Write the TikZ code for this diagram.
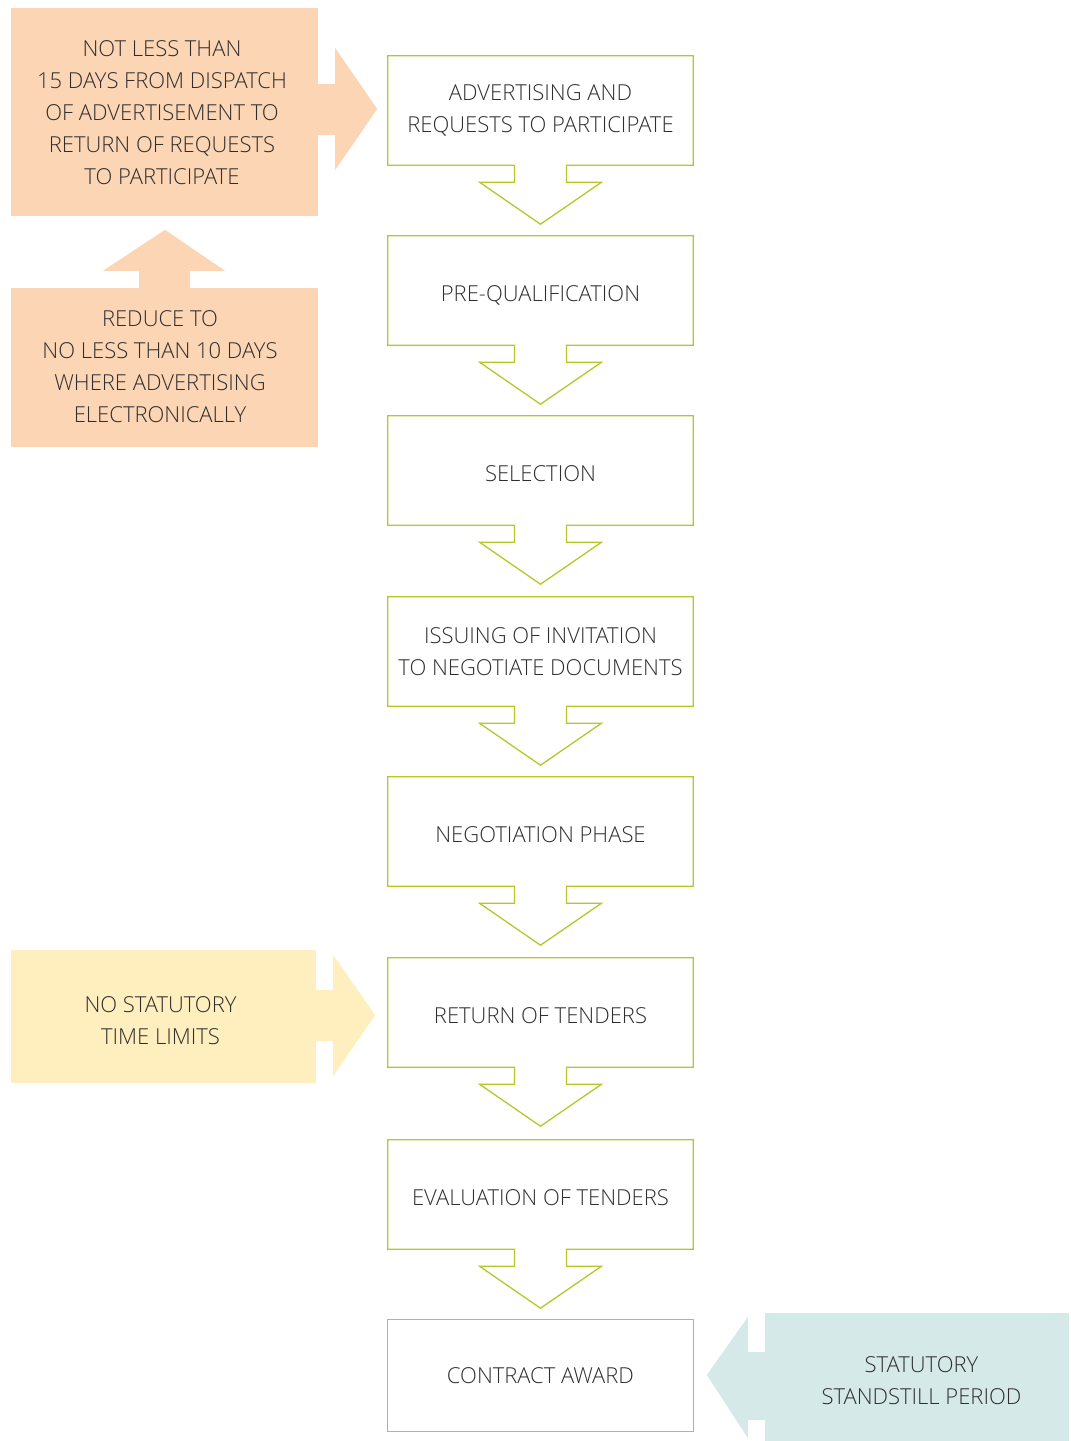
\documentclass[tikz,border=0pt]{standalone}
\usepackage{fontspec}
\setmainfont{Open Sans Light}
\usetikzlibrary{calc}
\definecolor{stepline}{HTML}{B7C62B}
\definecolor{notepeach}{HTML}{FCD5B4}
\definecolor{noteyellow}{HTML}{FFEFBF}
\definecolor{noteteal}{HTML}{D5EAE8}
\definecolor{inkgray}{HTML}{2E2E2E}
\begin{document}
\begin{tikzpicture}[x=1pt,y=-1pt,
  every node/.style={text=inkgray, font=\fontsize{22}{32}\selectfont, align=center, inner sep=0pt},
  stepbox/.style={minimum width=305pt, minimum height=109pt},
  oneline/.style={text height=22pt, text depth=0pt},
  notebox/.style={minimum width=307pt},
  outline/.style={draw=stepline, line width=1.3pt, line join=miter}]
\useasboundingbox (0,0) rectangle (1071,1441);

% process steps
\node[stepbox] (s1) at (540.5,110.5) {ADVERTISING AND\\REQUESTS TO PARTICIPATE};
\node[stepbox, oneline] (s2) at (540.5,290.5) {PRE-QUALIFICATION};
\node[stepbox, oneline] (s3) at (540.5,470.5) {SELECTION};
\node[stepbox] (s4) at (540.5,651.5) {ISSUING OF INVITATION\\TO NEGOTIATE DOCUMENTS};
\node[stepbox, oneline] (s5) at (540.5,831.5) {NEGOTIATION PHASE};
\node[stepbox, oneline] (s6) at (540.5,1012.5) {RETURN OF TENDERS};
\node[stepbox, oneline] (s7) at (540.5,1194.5) {EVALUATION OF TENDERS};
\node[stepbox, minimum height=111pt, text depth=0pt] (s8) at (540.5,1375.5) {CONTRACT AWARD};

% each step box carries a down-arrow on its lower edge
\foreach \s in {s1,s2,s3,s4,s5,s6,s7}{
  \draw[outline] (\s.south west) -- (\s.north west) -- (\s.north east) -- (\s.south east)
    -- ($(\s.south)+(26,0)$) -- ($(\s.south)+(26,17)$) -- ($(\s.south)+(61,17)$)
    -- ($(\s.south)+(0,59)$)
    -- ($(\s.south)+(-61,17)$) -- ($(\s.south)+(-26,17)$) -- ($(\s.south)+(-26,0)$) -- cycle;
}
\draw[outline] (s8.south west) rectangle (s8.north east);

% side note panels
\node[notebox, fill=notepeach, minimum height=208pt] (n1) at (164.5,112) {};
\node[notebox, fill=notepeach, minimum height=159pt] (n2) at (164.5,367.5) {};
\node[notebox, minimum width=305pt, fill=noteyellow, minimum height=133pt] (n3) at (163.5,1016.5) {};
\node[notebox, minimum width=304pt, fill=noteteal, minimum height=128pt] (n4) at (917,1377) {};

% side note texts
\node (n1t) at ($(n1.center)+(-2.5,1)$)
  {NOT LESS THAN\\15 DAYS FROM DISPATCH\\OF ADVERTISEMENT TO\\RETURN OF REQUESTS\\TO PARTICIPATE};
\node (n2t) at ($(n2.center)+(-4.5,-0.5)$)
  {REDUCE TO\\NO LESS THAN 10 DAYS\\WHERE ADVERTISING\\ELECTRONICALLY};
\node (n3t) at ($(n3.center)+(-3,4)$) {NO STATUTORY\\TIME LIMITS};
\node (n4t) at ($(n4.center)+(4.5,3.5)$) {STATUTORY\\STANDSTILL PERIOD};

% block arrows from the notes
\fill[notepeach] ($(n1.east)+(0,-28)$) -- ($(n1.east)+(17,-28)$) -- ($(n1.east)+(17,-64)$)
  -- ($(n1.east)+(59,-3)$) -- ($(n1.east)+(17,58)$) -- ($(n1.east)+(17,23)$) -- ($(n1.east)+(0,23)$) -- cycle;
\fill[notepeach] ($(n2.north)+(-25.5,0)$) -- ($(n2.north)+(-25.5,-17)$) -- ($(n2.north)+(-61.5,-17)$)
  -- ($(n2.north)+(0.5,-58)$) -- ($(n2.north)+(60.5,-17)$) -- ($(n2.north)+(25.5,-17)$) -- ($(n2.north)+(25.5,0)$) -- cycle;
\fill[noteyellow] ($(n3.east)+(0,-26.5)$) -- ($(n3.east)+(17,-26.5)$) -- ($(n3.east)+(17,-61.5)$)
  -- ($(n3.east)+(59,-1.5)$) -- ($(n3.east)+(17,59.5)$) -- ($(n3.east)+(17,24.5)$) -- ($(n3.east)+(0,24.5)$) -- cycle;
\fill[noteteal] ($(n4.west)+(0,-25)$) -- ($(n4.west)+(-17,-25)$) -- ($(n4.west)+(-17,-60)$)
  -- ($(n4.west)+(-58,-2)$) -- ($(n4.west)+(-17,61)$) -- ($(n4.west)+(-17,43)$) -- ($(n4.west)+(0,43)$) -- cycle;
\end{tikzpicture}
\end{document}
